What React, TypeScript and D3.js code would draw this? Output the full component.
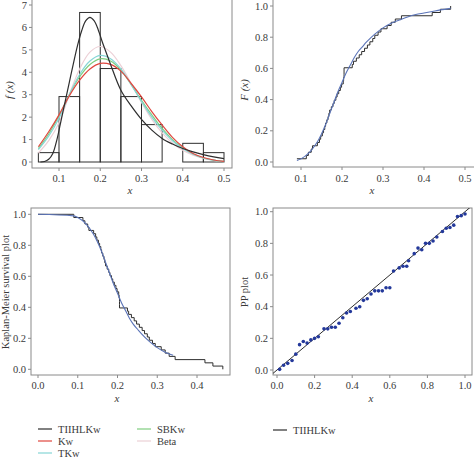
import React from "react";
import * as d3 from "d3";

// ---------- data ----------
const histBreaks = [0.05, 0.1, 0.15, 0.2, 0.25, 0.3, 0.35, 0.4, 0.45, 0.5];
const histDensity = [0.417, 2.917, 6.667, 4.167, 2.917, 1.667, 0, 0.833, 0.417];

const blackX = [0.055, 0.065, 0.075, 0.085, 0.095, 0.105, 0.115, 0.125, 0.135, 0.145, 0.155, 0.165, 0.175, 0.185, 0.195, 0.205, 0.215, 0.225, 0.25, 0.275, 0.3, 0.325, 0.35, 0.375, 0.4, 0.425, 0.45, 0.475, 0.5];
const tiihlkwY = [0, 0.02, 0.12, 0.38, 1.0, 1.85, 2.7, 3.55, 4.4, 5.2, 5.85, 6.3, 6.45, 6.3, 5.9, 5.35, 4.85, 4.35, 3.2, 2.5, 1.9, 1.42, 1.05, 0.8, 0.6, 0.45, 0.33, 0.23, 0.15];

const colX = [0.05, 0.075, 0.1, 0.125, 0.15, 0.175, 0.2, 0.225, 0.25, 0.275, 0.3, 0.325, 0.35, 0.375, 0.4, 0.425, 0.45, 0.475, 0.5];
const kwY = [0.68, 1.35, 2.1, 2.95, 3.65, 4.15, 4.4, 4.35, 4.05, 3.5, 2.9, 2.25, 1.65, 1.1, 0.68, 0.38, 0.2, 0.09, 0.03];
const tkwY = [0.55, 1.15, 1.95, 3.0, 3.9, 4.5, 4.75, 4.6, 4.15, 3.45, 2.7, 2.0, 1.42, 0.95, 0.6, 0.35, 0.18, 0.08, 0.02];
const sbkwY = [0.6, 1.25, 2.05, 3.0, 3.8, 4.35, 4.6, 4.5, 4.1, 3.45, 2.75, 2.1, 1.5, 1.0, 0.62, 0.36, 0.18, 0.08, 0.02];
const betaY = [0.4, 0.95, 1.75, 3.0, 4.15, 4.9, 5.15, 4.9, 4.3, 3.5, 2.65, 1.9, 1.3, 0.85, 0.52, 0.3, 0.16, 0.07, 0.02];

const sampleX = [0.090, 0.113, 0.118, 0.125, 0.128, 0.140, 0.145, 0.148, 0.152, 0.155, 0.158, 0.160, 0.163, 0.166, 0.168, 0.170, 0.174, 0.178, 0.181, 0.185, 0.188, 0.192, 0.196, 0.199, 0.203, 0.204, 0.205, 0.205, 0.205, 0.225, 0.228, 0.235, 0.242, 0.248, 0.255, 0.262, 0.268, 0.275, 0.280, 0.288, 0.295, 0.310, 0.320, 0.330, 0.345, 0.420, 0.440, 0.465];

const cdfX = [0.09, 0.1, 0.12, 0.14, 0.15, 0.16, 0.17, 0.18, 0.19, 0.2, 0.21, 0.22, 0.23, 0.24, 0.25, 0.26, 0.28, 0.3, 0.32, 0.34, 0.36, 0.38, 0.4, 0.42, 0.44, 0.465];
const cdfY = [0.01, 0.02, 0.06, 0.13, 0.18, 0.24, 0.31, 0.38, 0.45, 0.51, 0.57, 0.62, 0.67, 0.71, 0.74, 0.77, 0.82, 0.86, 0.89, 0.91, 0.93, 0.945, 0.955, 0.965, 0.975, 0.985];

const ppX = [0.014, 0.035, 0.057, 0.08, 0.10, 0.12, 0.14, 0.16, 0.18, 0.20, 0.22, 0.25, 0.27, 0.29, 0.31, 0.33, 0.35, 0.37, 0.39, 0.42, 0.44, 0.46, 0.48, 0.50, 0.52, 0.54, 0.56, 0.58, 0.60, 0.62, 0.65, 0.67, 0.69, 0.70, 0.73, 0.75, 0.77, 0.79, 0.81, 0.83, 0.85, 0.88, 0.90, 0.92, 0.94, 0.96, 0.98, 1.0];
const ppY = [0.004, 0.03, 0.042, 0.06, 0.10, 0.16, 0.18, 0.17, 0.19, 0.20, 0.21, 0.26, 0.26, 0.27, 0.27, 0.295, 0.33, 0.36, 0.37, 0.39, 0.40, 0.44, 0.45, 0.48, 0.50, 0.50, 0.50, 0.52, 0.52, 0.625, 0.645, 0.655, 0.655, 0.69, 0.735, 0.77, 0.76, 0.80, 0.80, 0.815, 0.84, 0.875, 0.895, 0.90, 0.915, 0.97, 0.975, 0.985];

const tlXTicks = [0.1, 0.2, 0.3, 0.4, 0.5];
const tlYTicks = [0, 1, 2, 3, 4, 5, 6, 7];
const trXTicks = [0.1, 0.2, 0.3, 0.4, 0.5];
const unitTicks = [0, 0.2, 0.4, 0.6, 0.8, 1.0];
const blXTicks = [0, 0.1, 0.2, 0.3, 0.4];

const legendLeft = ["TIIHLKw", "Kw", "TKw"];
const legendMid = ["SBKw", "Beta"];

// ---------- style ----------
const FONT = "'Liberation Serif', 'DejaVu Serif', serif";
const TXT = "#3a3a3a";
const FRAME = "#8a8a8a";
const DARK = "#2e2e2e";
const BLUE = "#5b74b8";
const C = { TIIHLKw: DARK, Kw: "#e0473f", TKw: "#86d6d6", SBKw: "#7fcd7f", Beta: "#ecd0d6" } as Record<string, string>;

type Sc = d3.ScaleLinear<number, number>;

function Frame({ x0, x1, y0, y1 }: { x0: number; x1: number; y0: number; y1: number }) {
  return <rect x={x0} y={y0} width={x1 - x0} height={y1 - y0} fill="none" stroke={FRAME} strokeWidth={1} />;
}

function XAxis({ sc, ticks, y, fmt, labelY }: { sc: Sc; ticks: number[]; y: number; fmt: (v: number) => string; labelY: number }) {
  return (
    <g>
      {ticks.map((t) => (
        <g key={t}>
          <line x1={sc(t)} x2={sc(t)} y1={y} y2={y + 3} stroke={FRAME} />
          <text x={sc(t)} y={labelY} textAnchor="middle" fontSize={10.5} fill={TXT} fontFamily={FONT}>{fmt(t)}</text>
        </g>
      ))}
    </g>
  );
}

function YAxis({ sc, ticks, x, fmt }: { sc: Sc; ticks: number[]; x: number; fmt: (v: number) => string }) {
  return (
    <g>
      {ticks.map((t) => (
        <g key={t}>
          <line x1={x - 3} x2={x} y1={sc(t)} y2={sc(t)} stroke={FRAME} />
          <text x={x - 5} y={sc(t)} dy="0.35em" textAnchor="end" fontSize={10.5} fill={TXT} fontFamily={FONT}>{fmt(t)}</text>
        </g>
      ))}
    </g>
  );
}

export default function App() {
  const f1 = d3.format(".1f");
  const f0 = d3.format("d");

  // top-left
  const xTL = d3.scaleLinear().domain([0.1, 0.5]).range([59, 224]);
  const yTL = d3.scaleLinear().domain([0, 7]).range([162, 5]);
  const smooth = (xs: number[], ys: number[]) =>
    d3.line<number>().x((_, i) => xTL(xs[i])).y((v) => yTL(v)).curve(d3.curveCatmullRom)(ys) || "";

  // top-right
  const xTR = d3.scaleLinear().domain([0.1, 0.5]).range([301, 465]);
  const yTR = d3.scaleLinear().domain([0, 1]).range([162, 6]);
  const n = sampleX.length;
  const ecdfPts = sampleX.map((x, i) => [x, (i + 1) / n] as [number, number]);
  const ecdfPath = d3.line().x((d) => xTR(d[0])).y((d) => yTR(d[1])).curve(d3.curveStepAfter)(ecdfPts) || "";
  const cdfPath = d3.line<number>().x((_, i) => xTR(cdfX[i])).y((v) => yTR(v)).curve(d3.curveCatmullRom)(cdfY) || "";

  // bottom-left
  const xBL = d3.scaleLinear().domain([0, 0.4]).range([38, 197]);
  const yBL = d3.scaleLinear().domain([0, 1]).range([369.3, 214.3]);
  const kmPts: [number, number][] = [[0, 1], ...sampleX.map((x, i) => [x, 1 - (i + 1) / n] as [number, number])];
  const kmPath = d3.line().x((d) => xBL(d[0])).y((d) => yBL(d[1])).curve(d3.curveStepAfter)(kmPts) || "";
  const survPts: [number, number][] = [[0, 1], ...cdfX.map((x, i) => [x, 1 - cdfY[i]] as [number, number]).filter((d) => d[0] <= 0.345)];
  const survPath = d3.line().x((d) => xBL(d[0])).y((d) => yBL(d[1])).curve(d3.curveMonotoneX)(survPts) || "";

  // bottom-right
  const xBR = d3.scaleLinear().domain([0, 1]).range([277, 465]);
  const yBR = d3.scaleLinear().domain([0, 1]).range([370, 211.7]);

  const curves = [
    { name: "Beta", xs: colX, ys: betaY },
    { name: "SBKw", xs: colX, ys: sbkwY },
    { name: "TKw", xs: colX, ys: tkwY },
    { name: "Kw", xs: colX, ys: kwY },
    { name: "TIIHLKw", xs: blackX, ys: tiihlkwY },
  ];

  return (
    <svg width={474} height={460} style={{ position: "absolute", left: 0, top: 0, background: "#fff" }}>
      <defs>
        <clipPath id="clipBR"><rect x={273} y={208} width={199} height={167} /></clipPath>
      </defs>

      {/* ---- top-left: density ---- */}
      <Frame x0={32} x1={232} y0={-2} y1={168} />
      {histDensity.map((d, i) => (
        <rect key={i} x={xTL(histBreaks[i])} y={yTL(d)} width={xTL(histBreaks[i + 1]) - xTL(histBreaks[i])}
          height={yTL(0) - yTL(d)} fill="none" stroke={DARK} strokeWidth={1} />
      ))}
      {curves.map((c) => (
        <path key={c.name} d={smooth(c.xs, c.ys)} fill="none" stroke={C[c.name]} strokeWidth={1.2} />
      ))}
      <XAxis sc={xTL} ticks={tlXTicks} y={168} fmt={f1} labelY={182} />
      <YAxis sc={yTL} ticks={tlYTicks} x={32} fmt={f0} />
      <text x={130} y={194} textAnchor="middle" fontSize={11} fontStyle="italic" fill={TXT} fontFamily={FONT}>x</text>
      <text transform="translate(13,90) rotate(-90)" textAnchor="middle" fontSize={11} fontStyle="italic" fill={TXT} fontFamily={FONT}>f (x)</text>

      {/* ---- top-right: cdf ---- */}
      <Frame x0={273} x1={476} y0={-2} y1={167} />
      <path d={ecdfPath} fill="none" stroke={DARK} strokeWidth={1} />
      <path d={cdfPath} fill="none" stroke={BLUE} strokeWidth={1.1} />
      <XAxis sc={xTR} ticks={trXTicks} y={167} fmt={f1} labelY={182} />
      <YAxis sc={yTR} ticks={unitTicks} x={273} fmt={f1} />
      <text x={372} y={194} textAnchor="middle" fontSize={11} fontStyle="italic" fill={TXT} fontFamily={FONT}>x</text>
      <text transform="translate(248,90) rotate(-90)" textAnchor="middle" fontSize={11} fontStyle="italic" fill={TXT} fontFamily={FONT}>F (x)</text>

      {/* ---- bottom-left: KM ---- */}
      <Frame x0={31} x1={230} y0={208} y1={375} />
      <path d={kmPath} fill="none" stroke={DARK} strokeWidth={1} />
      <path d={survPath} fill="none" stroke={BLUE} strokeWidth={1.1} />
      <XAxis sc={xBL} ticks={blXTicks} y={375} fmt={f1} labelY={389} />
      <YAxis sc={yBL} ticks={unitTicks} x={31} fmt={f1} />
      <text x={117} y={402} textAnchor="middle" fontSize={11} fontStyle="italic" fill={TXT} fontFamily={FONT}>x</text>
      <text transform="translate(9,292) rotate(-90)" textAnchor="middle" fontSize={10.5} fill={TXT} fontFamily={FONT}>Kaplan-Meier survival plot</text>

      {/* ---- bottom-right: PP ---- */}
      <Frame x0={273} x1={472} y0={208} y1={375} />
      <line x1={xBR(-0.05)} y1={yBR(-0.05)} x2={xBR(1.1)} y2={yBR(1.1)} stroke={DARK} strokeWidth={1} clipPath="url(#clipBR)" />
      {ppX.map((x, i) => (
        <circle key={i} cx={xBR(x)} cy={yBR(ppY[i])} r={1.8} fill="#23389a" />
      ))}
      <XAxis sc={xBR} ticks={unitTicks} y={375} fmt={f1} labelY={389} />
      <YAxis sc={yBR} ticks={unitTicks} x={273} fmt={f1} />
      <text x={371} y={402} textAnchor="middle" fontSize={11} fontStyle="italic" fill={TXT} fontFamily={FONT}>x</text>
      <text transform="translate(248,292) rotate(-90)" textAnchor="middle" fontSize={10.5} fill={TXT} fontFamily={FONT}>PP plot</text>

      {/* ---- legends ---- */}
      {legendLeft.map((name, i) => (
        <g key={name}>
          <line x1={38} x2={52} y1={429 + i * 12} y2={429 + i * 12} stroke={C[name]} strokeWidth={1.2} />
          <text x={58} y={429 + i * 12} dy="0.35em" fontSize={10.5} fill={TXT} fontFamily={FONT}>{name}</text>
        </g>
      ))}
      {legendMid.map((name, i) => (
        <g key={name}>
          <line x1={137} x2={151} y1={429 + i * 12} y2={429 + i * 12} stroke={C[name]} strokeWidth={1.2} />
          <text x={157} y={429 + i * 12} dy="0.35em" fontSize={10.5} fill={TXT} fontFamily={FONT}>{name}</text>
        </g>
      ))}
      <line x1={273} x2={287} y1={430} y2={430} stroke={DARK} strokeWidth={1.2} />
      <text x={293} y={430} dy="0.35em" fontSize={10.5} fill={TXT} fontFamily={FONT}>TIIHLKw</text>
    </svg>
  );
}
